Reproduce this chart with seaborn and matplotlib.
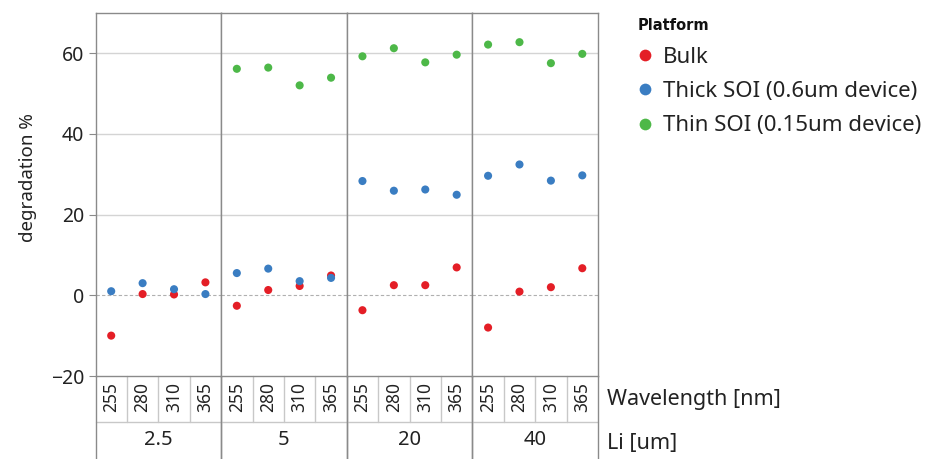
import matplotlib
matplotlib.use('Agg')
import matplotlib.pyplot as plt
import pandas as pd
import seaborn as sns

# ── Data ──
LI = ["2.5", "5", "20", "40"]
WAVELENGTH = ["255", "280", "310", "365"]
PLATFORMS = ["Bulk", "Thick SOI (0.6um device)", "Thin SOI (0.15um device)"]

BULK = {
    "2.5": [-10.0, 0.3, 0.2, 3.2],
    "5": [-2.6, 1.3, 2.3, 4.9],
    "20": [-3.7, 2.5, 2.5, 6.9],
    "40": [-8.0, 0.9, 2.0, 6.7],
}
THICK_SOI = {
    "2.5": [1.0, 3.0, 1.5, 0.3],
    "5": [5.5, 6.6, 3.5, 4.3],
    "20": [28.3, 25.9, 26.2, 24.9],
    "40": [29.6, 32.4, 28.4, 29.7],
}
THIN_SOI = {
    "5": [56.1, 56.4, 52.0, 53.9],
    "20": [59.2, 61.2, 57.7, 59.6],
    "40": [62.1, 62.7, 57.5, 59.8],
}

COLORS = {
    "Bulk": "#E41E26",
    "Thick SOI (0.6um device)": "#3A7DC2",
    "Thin SOI (0.15um device)": "#4DB848",
}

rows = []
for name, series in zip(PLATFORMS, [BULK, THICK_SOI, THIN_SOI]):
    for li, vals in series.items():
        for wl, v in zip(WAVELENGTH, vals):
            rows.append({"Li": li, "Wavelength": wl, "Platform": name, "degradation": v})
df = pd.DataFrame(rows)

sns.set_style("white")
plt.rcParams['font.family'] = ['Noto Sans', 'DejaVu Sans']

W, H = 934, 459
fig = plt.figure(figsize=(W / 100, H / 100), dpi=100)
gs = fig.add_gridspec(1, 4, left=95.5 / W, right=598 / W,
                      top=1 - 12.7 / H, bottom=1 - 376 / H, wspace=0)

SPINE = '#8a8a8a'
CELL = '#c8c8c8'
TXT = '#222222'
axes = []
for i, li in enumerate(LI):
    ax = fig.add_subplot(gs[0, i], sharey=axes[0] if axes else None)
    sub = df[df.Li == li]
    sns.scatterplot(data=sub, x="Wavelength", y="degradation", hue="Platform",
                    hue_order=PLATFORMS, palette=COLORS, s=34, edgecolor='none',
                    ax=ax, legend=(i == len(LI) - 1), zorder=3)
    ax.set_xlim(-0.5, 3.5)
    ax.set_ylim(-20, 70)
    ax.set_yticks([-20, 0, 20, 40, 60])
    for yv in [20, 40, 60]:
        ax.axhline(yv, color='#d4d4d4', lw=1.0, zorder=1)
    ax.axhline(0, color='#b0b0b0', lw=0.8, ls=(0, (3, 2)), zorder=1)

    for sp in ax.spines.values():
        sp.set_color(SPINE)
        sp.set_linewidth(1.0)

    ax.set_xticks(range(len(WAVELENGTH)))
    ax.set_xticklabels(WAVELENGTH, rotation=90, fontsize=12.5, color=TXT)
    ax.tick_params(axis='x', length=0, pad=4)

    # table-like header cells below the panel
    for xb in [0.25, 0.5, 0.75]:
        ax.plot([xb, xb], [0, -0.1266], transform=ax.transAxes, color=CELL,
                lw=1.0, clip_on=False)
    ax.plot([0, 1], [-0.1266, -0.1266], transform=ax.transAxes, color=CELL,
            lw=1.0, clip_on=False)
    for xb in [0, 1]:
        ax.plot([xb, xb], [0, -0.23], transform=ax.transAxes, color=SPINE,
                lw=1.0, clip_on=False)

    ax.set_xlabel(li, fontsize=14.5, color=TXT)
    ax.xaxis.set_label_coords(0.5, -0.176)
    ax.xaxis.label.set_va('center')

    if i == 0:
        ax.tick_params(axis='y', length=5, width=0.8, color=SPINE, pad=3,
                       labelsize=14, labelcolor=TXT, left=True)
        ax.set_ylabel("degradation %", fontsize=13.5, color=TXT)
        ax.yaxis.set_label_coords(-0.466, 0.545)
    else:
        ax.tick_params(axis='y', left=False, labelleft=False)
        ax.set_ylabel("")
    axes.append(ax)

fig.text(607 / W, 1 - 400 / H, "Wavelength [nm]", fontsize=15.5, color=TXT,
         ha='left', va='center')
fig.text(607 / W, 1 - 443 / H, "Li [um]", fontsize=15.5, color=TXT,
         ha='left', va='center')

sns.move_legend(axes[-1], "upper left", bbox_to_anchor=(1.208, 1.021),
                frameon=False, title="Platform", fontsize=16,
                title_fontproperties={'family': ['DejaVu Sans'],
                                      'weight': 'bold', 'size': 10.5},
                markerscale=1.45, handlelength=0.7, handletextpad=0.45,
                labelspacing=0.6, borderpad=0.6, borderaxespad=0,
                alignment='left')
leg = axes[-1].get_legend()
for t in leg.get_texts():
    t.set_color(TXT)
leg.get_title().set_color('#111111')

fig.savefig("out.png", dpi=100, facecolor='white')
plt.close()
